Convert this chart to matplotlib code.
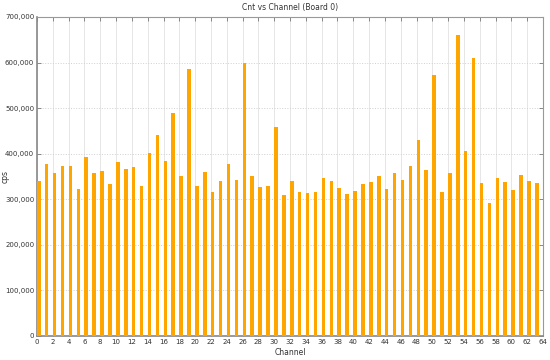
import numpy as np
import matplotlib
matplotlib.use("Agg")
import matplotlib.pyplot as plt
from matplotlib.ticker import FuncFormatter, MultipleLocator

channels = list(range(64))
cps = [340000, 378000, 357000, 374000, 374000, 322000, 392000, 357000,
       363000, 333000, 382000, 366000, 370000, 330000, 401000, 441000,
       384000, 489000, 352000, 586000, 329000, 359000, 315000, 340000,
       377000, 343000, 600000, 352000, 326000, 329000, 458000, 310000,
       340000, 317000, 313000, 315000, 347000, 341000, 325000, 312000,
       319000, 333000, 337000, 352000, 322000, 357000, 343000, 373000,
       431000, 364000, 573000, 316000, 357000, 660000, 405000, 609000,
       336000, 292000, 346000, 338000, 320000, 354000, 341000, 336000]

fig = plt.figure(figsize=(5.5, 3.6), dpi=100)
ax = fig.add_axes([37/550, 24/360, 506/550, 319/360])

ax.bar(channels, cps, width=0.45, align='edge', color='#ffa500', zorder=3)

ax.set_xlim(0, 64)
ax.set_ylim(0, 700000)
ax.xaxis.set_major_locator(MultipleLocator(2))
ax.yaxis.set_major_locator(MultipleLocator(100000))
ax.yaxis.set_major_formatter(FuncFormatter(lambda v, p: format(int(v), ',')))

ax.grid(True, axis='x', color='#e6e6e6', linewidth=0.7, zorder=0)
ax.grid(True, axis='y', color='#d0d0d0', linewidth=0.7, linestyle=':', zorder=0)

ax.tick_params(axis='both', which='major', labelsize=5, direction='in',
               length=3, width=0.6, color='#777777', labelcolor='#333333',
               top=True, right=True, pad=2)
for s in ['left', 'bottom']:
    ax.spines[s].set_color('#888888')
    ax.spines[s].set_linewidth(1.2)
for s in ['top', 'right']:
    ax.spines[s].set_color('#999999')
    ax.spines[s].set_linewidth(0.8)

ax.set_title('Cnt vs Channel (Board 0)', fontsize=5.5, color='#333333', pad=5)
ax.set_xlabel('Channel', fontsize=5.5, color='#333333', labelpad=2)
ax.set_ylabel('cps', fontsize=5.5, color='#333333')
ax.yaxis.set_label_coords(-0.055, 0.5)

fig.savefig('out.png', dpi=100)
